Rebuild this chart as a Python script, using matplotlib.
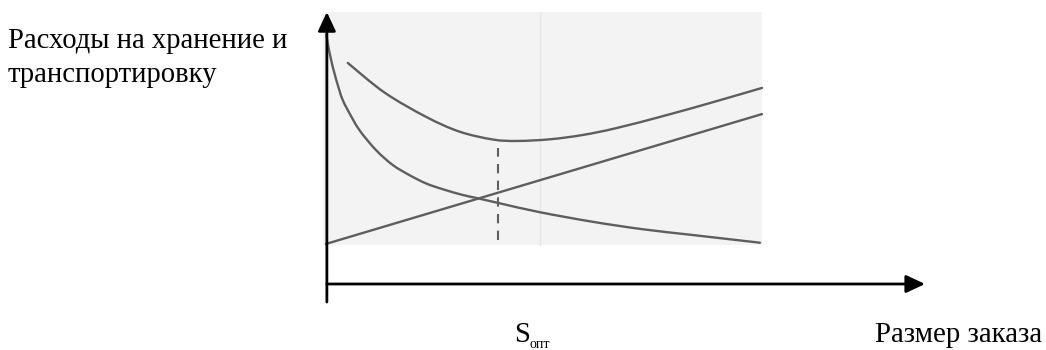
import numpy as np
import matplotlib.pyplot as plt
from matplotlib.patches import Rectangle, PathPatch
from matplotlib.path import Path

plt.rcParams['font.family'] = ['Liberation Serif', 'DejaVu Serif']

# order size (arbitrary units) vs cost
transport_q = [0.1, 0.39, 1.54, 3.05, 3.83, 4.98, 7.64, 11.47, 15.3, 19.11,
               22.94, 26.77, 31.35, 34.86, 39.91, 49.08, 61.24, 72.71,
               84.17, 99.54]
transport_c = [104.0, 100.3, 90.5, 80.8, 76.7, 72.5, 64.2, 55.8, 49.6, 45.4,
               41.9, 39.5, 37.1, 35.7, 33.6, 29.9, 25.9, 22.8, 20.4, 17.2]

storage_q = [0, 100]
storage_c = [16.7, 70.8]

total_q = [5.0, 13.4, 22.9, 30.6, 38.3, 43.8, 51.4, 58.9, 66.7, 78.2, 89.7, 100]
total_c = [92.1, 79.8, 69.7, 63.5, 60.2, 59.6, 60.3, 62.1, 65.0, 70.4, 76.25, 81.7]

q_opt = 39.4
opt_range = [18.3, 56.7]

y_label = ['Расходы на хранение и', 'транспортировку']
x_label = 'Размер заказа'

W, H = 1046, 350
fig = plt.figure(figsize=(W / 100, H / 100), dpi=100)
ax = fig.add_axes([0, 0, 1, 1])
ax.set_xlim(-326 / 4.36, (W - 326) / 4.36)
ax.set_ylim(-(H - 284) / 2.4, 284 / 2.4)
ax.axis('off')

# light grey backdrop of the scanned figure
ax.add_patch(Rectangle((-0.7, 16.25), 100.7, 97.1, facecolor='#f3f3f3',
                       edgecolor='none', zorder=0))
ax.plot([49.1, 49.1], [16.25, 113.3], color='#e6e6e6', lw=1, zorder=1)

GREY = '#5e5e5e'


def smooth_path(qs, cs):
    """Bezier path through the points (Catmull-Rom style tangents)."""
    p = np.column_stack([qs, cs]).astype(float)
    verts = [p[0]]
    codes = [Path.MOVETO]
    for i in range(len(p) - 1):
        p0 = p[i - 1] if i > 0 else p[i]
        p3 = p[i + 2] if i + 2 < len(p) else p[i + 1]
        c1 = p[i] + (p[i + 1] - p0) / 6
        c2 = p[i + 1] - (p3 - p[i]) / 6
        verts += [c1, c2, p[i + 1]]
        codes += [Path.CURVE4] * 3
    return Path(verts, codes)


for qs, cs in [(transport_q, transport_c), (total_q, total_c)]:
    ax.add_patch(PathPatch(smooth_path(qs, cs), facecolor='none',
                           edgecolor=GREY, lw=1.7, capstyle='round',
                           zorder=3))
ax.plot(storage_q, storage_c, color=GREY, lw=1.7, solid_capstyle='round',
        zorder=3)

ax.plot([q_opt, q_opt], opt_range, color=GREY, lw=1.5,
        dashes=(4.5, 3.5), zorder=3)

# axes with arrow heads
arrow = dict(arrowstyle='-|>,head_length=0.96,head_width=0.45',
             mutation_scale=12, color='black', lw=2,
             shrinkA=0, shrinkB=0)
ax.annotate('', xy=(0.2, 113.3), xytext=(0.2, -7.5), arrowprops=arrow,
            zorder=5)
ax.annotate('', xy=(137.4, 0), xytext=(0.2, 0), arrowprops=arrow, zorder=5)

fig.text(8 / W, 1 - 48.3 / H, y_label[0], fontsize=20.6, va='baseline',
         ha='left')
fig.text(8 / W, 1 - 82.3 / H, y_label[1], fontsize=20.6, va='baseline',
         ha='left')
fig.text(875 / W, 1 - 341.7 / H, x_label, fontsize=20.8, va='baseline',
         ha='left')
fig.text(514 / W, 1 - 342 / H, 'S', fontsize=20.6, va='baseline', ha='left')
fig.text(529 / W, 1 - 347.5 / H, 'опт', fontsize=10, va='baseline',
         ha='left')

fig.savefig('out.png', dpi=100)
